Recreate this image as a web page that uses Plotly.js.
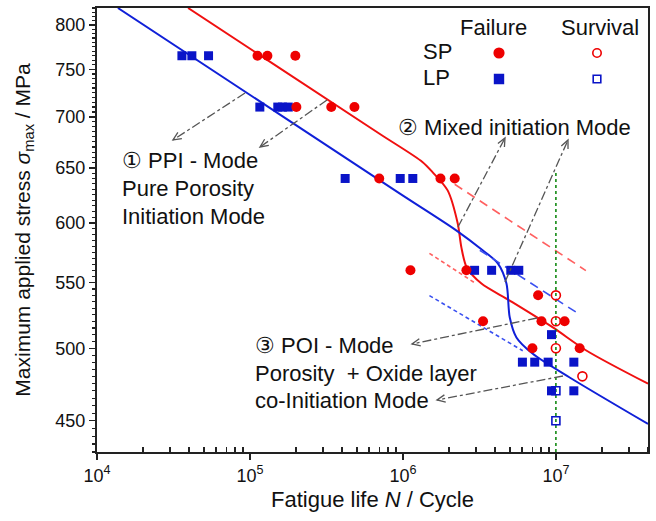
<!DOCTYPE html>
<html>
<head>
<meta charset="utf-8">
<script src="https://cdn.plot.ly/plotly-3.0.1.min.js"></script>
<style>html,body{margin:0;padding:0;background:#fff;}#chart{width:656px;height:521px;}</style>
</head>
<body>
<div id="chart"></div>
<script>
// ---------- data ----------
const spFailN = [1.12e5, 1.30e5, 1.98e5, 2.01e5, 3.4e5, 4.82e5, 7.0e5, 1.76e6, 2.18e6, 1.12e6, 2.6e6, 7.65e6, 3.34e6, 8.05e6, 1.14e7, 7.02e6, 1.43e7];
const spFailS = [765, 765, 765, 710, 710, 710, 640, 640, 640, 560, 560, 540, 520, 520, 520, 500, 500];
const spSurvN = [1e7, 1e7, 1e7, 1.49e7];
const spSurvS = [540, 520, 500, 480];
const lpFailN = [3.59e4, 4.17e4, 5.36e4, 1.16e5, 1.52e5, 1.63e5, 1.78e5, 4.19e5, 9.6e5, 1.16e6, 2.94e6, 3.8e6, 5.07e6, 5.72e6, 9.36e6, 6.04e6, 7.27e6, 8.9e6, 1.31e7, 9.36e6, 1.31e7];
const lpFailS = [765, 765, 765, 710, 710, 710, 710, 640, 640, 640, 560, 560, 560, 560, 510, 490, 490, 490, 490, 470, 470];
const lpSurvN = [1e7, 1e7];
const lpSurvS = [470, 450];

// fitted S-N curves
const spFitN = [3.94e4, 7.03e5, 1.34e6, 1.56e6, 1.96e6, 2.28e6, 2.41e6, 2.61e6, 3.26e6, 4.99e6, 9.55e6, 1.59e7, 4.0e7];
const spFitS = [820, 683, 655.6, 646, 629, 599.6, 579, 562.5, 549.3, 535.9, 515.4, 498.2, 474.9];
const lpFitN = [1.37e4, 9.5e5, 2.23e6, 3.32e6, 4.17e6, 4.75e6, 4.99e6, 5.52e6, 7.06e6, 1.23e7, 4.0e7];
const lpFitS = [820, 626.3, 593.5, 576.5, 565.7, 549.3, 523, 507.9, 496, 479.2, 447.9];

// dashed guide lines
const spUpperN = [2.18e6, 1.57e7];  const spUpperS = [634.6, 559.8];
const spLowerN = [1.49e6, 2.94e6];  const spLowerS = [574, 550];
const lpUpperN = [3.18e6, 1.37e7];  const lpUpperS = [576.5, 526.6];
const lpLowerN = [1.49e6, 6.07e6];  const lpLowerS = [539.8, 498.2];
const runoutN = [1e7, 1e7];         const runoutS = [645, 425];

// axis ticks
const xTickVals = [1e4, 1e5, 1e6, 1e7];
const xTickText = ['10<sup>4</sup>', '10<sup>5</sup>', '10<sup>6</sup>', '10<sup>7</sup>'];
const yTickVals = [450, 500, 550, 600, 650, 700, 750, 800];
const yTickText = ['450', '500', '550', '600', '650', '700', '750', '800'];

// ---------- helpers ----------
const xMinor = [];
for (let d = 4; d <= 7; d++) for (let k = 2; k <= 9; k++) { const v = k * Math.pow(10, d); if (v <= 4e7) xMinor.push(v); }
const yMinor = [];
for (let v = 430; v <= 820; v += 5) if (v % 50 !== 0) yMinor.push(v);

const L = 97, T = 8, W = 551, H = 444;
const fx = px => (px - L) / W;
const fy = py => 1 - (py - T) / H;

const RED = '#ee0000', BLUE = '#0a14c8';

const traces = [
  {x: spFitN, y: spFitS, mode: 'lines', line: {color: '#f01010', width: 2, shape: 'spline', smoothing: 0.8}, hoverinfo: 'skip'},
  {x: lpFitN, y: lpFitS, mode: 'lines', line: {color: '#1020d8', width: 2, shape: 'spline', smoothing: 0.8}, hoverinfo: 'skip'},
  {x: spUpperN, y: spUpperS, mode: 'lines', line: {color: '#ff6060', width: 1.6, dash: '9px,6px'}},
  {x: spLowerN, y: spLowerS, mode: 'lines', line: {color: '#ff6060', width: 1.6, dash: '4px,3px'}},
  {x: lpUpperN, y: lpUpperS, mode: 'lines', line: {color: '#3a50f0', width: 1.6, dash: '9px,6px'}},
  {x: lpLowerN, y: lpLowerS, mode: 'lines', line: {color: '#3a50f0', width: 1.6, dash: '4px,3px'}},
  {x: runoutN, y: runoutS, mode: 'lines', line: {color: '#138a13', width: 1.6, dash: 'dot'}},
  {x: lpFailN, y: lpFailS, mode: 'markers', marker: {symbol: 'square', size: 9, color: BLUE}},
  {x: lpSurvN, y: lpSurvS, mode: 'markers', marker: {symbol: 'square-open', size: 8, color: BLUE, line: {width: 1.6, color: BLUE}}},
  {x: spFailN, y: spFailS, mode: 'markers', marker: {symbol: 'circle', size: 10, color: RED}},
  {x: spSurvN, y: spSurvS, mode: 'markers', marker: {symbol: 'circle-open', size: 9, color: RED, line: {width: 1.6, color: RED}}}
];

const shapes = [], annotations = [];

// legend symbols (drawn in the plot-area frame)
const box = (type, cx, cy, r, fill, col) => ({type: type, xref: 'paper', yref: 'paper',
  x0: fx(cx - r), x1: fx(cx + r), y0: fy(cy + r), y1: fy(cy - r),
  fillcolor: fill, line: {color: col, width: 1.6}});
shapes.push(
  box('circle', 499, 53, 4.8, RED, RED), box('circle', 597, 53, 4.2, 'rgba(0,0,0,0)', RED),
  box('rect', 499, 79, 4.4, BLUE, BLUE), box('rect', 597, 79, 3.8, 'rgba(0,0,0,0)', BLUE)
);

// arrows: tail -> tip (pixel positions of the layout)
const arrows = [
  [245, 93, 173, 140], [327, 100, 260, 147],
  [458, 227, 505, 138], [505, 282, 568, 140],
  [537, 318, 412, 344], [563, 376, 437, 400]
];
const GRAY = '#555';
arrows.forEach(a => {
  const [x0, y0, x1, y1] = a;
  shapes.push({type: 'line', xref: 'paper', yref: 'paper', x0: fx(x0), y0: fy(y0), x1: fx(x1), y1: fy(y1),
               line: {color: GRAY, width: 1.3, dash: 'dashdot'}});
  const dx = x0 - x1, dy = y0 - y1, len = Math.hypot(dx, dy);
  const ux = dx / len, uy = dy / len, hl = 9, ang = 0.42;
  const c = Math.cos(ang), s = Math.sin(ang);
  const p1x = x1 + hl * (ux * c - uy * s), p1y = y1 + hl * (ux * s + uy * c);
  const p2x = x1 + hl * (ux * c + uy * s), p2y = y1 + hl * (-ux * s + uy * c);
  shapes.push({type: 'path', xref: 'paper', yref: 'paper',
               path: `M${fx(p1x)},${fy(p1y)} L${fx(x1)},${fy(y1)} L${fx(p2x)},${fy(p2y)}`,
               line: {color: GRAY, width: 1.3}});
});

const txt = (px, py, text, anchor) => ({xref: 'paper', yref: 'paper', x: fx(px), y: fy(py), text: text,
  showarrow: false, xanchor: anchor || 'left', yanchor: 'middle', font: {size: 22, color: '#111'}});
annotations.push(
  txt(493, 27, 'Failure', 'center'), txt(600, 27, 'Survival', 'center'),
  txt(437, 52, 'SP', 'center'), txt(436, 78, 'LP', 'center'),
  txt(120, 160, '\u2460 PPI - Mode'), txt(120, 189, 'Pure Porosity'), txt(120, 217, 'Initiation Mode'),
  txt(396, 127, '\u2461 Mixed initiation Mode'),
  txt(253, 345, '\u2462 POI - Mode'), txt(253, 373, 'Porosity  + Oxide layer'), txt(253, 400, 'co-Initiation Mode')
);

const layout = {
  width: 656, height: 521,
  margin: {l: L, r: 656 - L - W, t: T, b: 521 - T - H},
  paper_bgcolor: '#fff', plot_bgcolor: '#fff',
  font: {family: '"Liberation Sans", Arial, sans-serif', color: '#111'},
  showlegend: false,
  xaxis: {
    type: 'log', range: [4, Math.log10(4e7)], tickmode: 'array', tickvals: xTickVals, ticktext: xTickText,
    ticks: 'outside', ticklen: 6, tickwidth: 1.5, tickcolor: '#222', tickfont: {size: 18},
    showline: true, linewidth: 2, linecolor: '#222', mirror: true, showgrid: false, zeroline: false,
    minor: {tickmode: 'array', tickvals: xMinor, ticks: 'inside', ticklen: 5, tickwidth: 1.3, tickcolor: '#222', showgrid: false},
    title: {text: 'Fatigue life <i>N</i> / Cycle', font: {size: 22}, standoff: 7}
  },
  yaxis: {
    type: 'log', range: [Math.log10(430), Math.log10(820)], tickmode: 'array', tickvals: yTickVals, ticktext: yTickText,
    ticks: 'outside', ticklen: 6, tickwidth: 1.5, tickcolor: '#222', tickfont: {size: 18},
    showline: true, linewidth: 2, linecolor: '#222', mirror: true, showgrid: false, zeroline: false,
    minor: {tickmode: 'array', tickvals: yMinor, ticks: 'outside', ticklen: 3, tickwidth: 1.2, tickcolor: '#222', showgrid: false},
    title: {text: 'Maximum applied stress <i>\u03c3</i><sub>max</sub> / MPa', font: {size: 21}, standoff: 19}
  },
  shapes: shapes,
  annotations: annotations
};

Plotly.newPlot('chart', traces, layout, {staticPlot: true, displayModeBar: false});
</script>
</body>
</html>
